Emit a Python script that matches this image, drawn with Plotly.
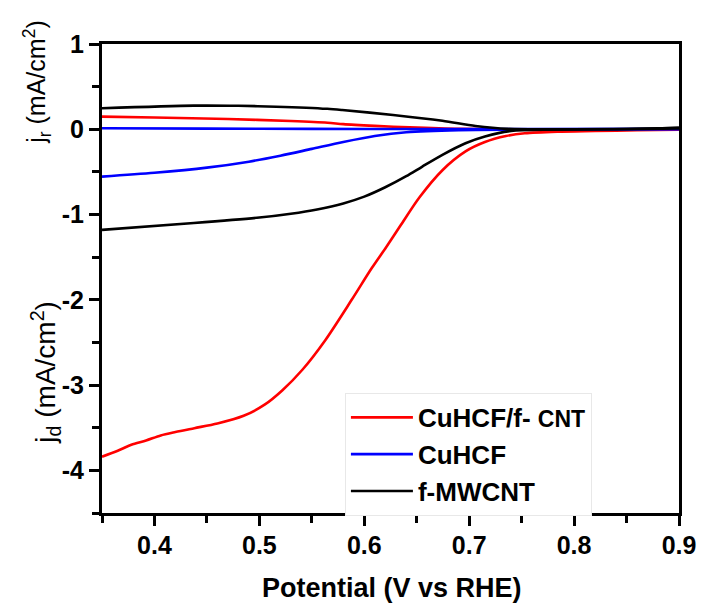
import plotly.graph_objects as go

# ---------------- data ----------------
# CuHCF/f-CNT (red) disk current
red_d_x = [0.35, 0.365, 0.378, 0.392, 0.406, 0.42, 0.438, 0.46, 0.485, 0.505, 0.522, 0.541,
           0.563, 0.588, 0.607, 0.621, 0.635, 0.6525, 0.6745, 0.6965, 0.715, 0.735, 0.753,
           0.784, 0.82, 0.86, 0.9]
red_d_y = [-3.84, -3.77, -3.70, -3.65, -3.59, -3.55, -3.505, -3.45, -3.36, -3.23, -3.06, -2.82,
           -2.47, -2.0, -1.63, -1.38, -1.12, -0.80, -0.48, -0.26, -0.15, -0.08, -0.047,
           -0.028, -0.02, -0.012, -0.005]
# CuHCF/f-CNT (red) ring current
red_r_x = [0.35, 0.40, 0.47, 0.53, 0.565, 0.58, 0.61, 0.643, 0.69, 0.75, 0.9]
red_r_y = [0.148, 0.138, 0.12, 0.097, 0.077, 0.06, 0.04, 0.023, 0.005, 0.0, 0.0]

# CuHCF (blue) disk current
blue_d_x = [0.35, 0.40, 0.45, 0.49, 0.52, 0.55, 0.58, 0.61, 0.64, 0.69, 0.75, 0.9]
blue_d_y = [-0.555, -0.51, -0.45, -0.38, -0.31, -0.23, -0.15, -0.08, -0.035, -0.01, -0.005, 0.0]
# CuHCF (blue) ring current
blue_r_x = [0.35, 0.45, 0.55, 0.65, 0.75, 0.9]
blue_r_y = [0.012, 0.008, 0.005, 0.003, 0.002, 0.005]

# f-MWCNT (black) disk current
blk_d_x = [0.35, 0.4376, 0.50, 0.53, 0.555, 0.58, 0.60, 0.62, 0.64, 0.655, 0.6745,
           0.6965, 0.715, 0.74, 0.78, 0.85, 0.9]
blk_d_y = [-1.18, -1.10, -1.035, -0.99, -0.94, -0.87, -0.79, -0.68, -0.55, -0.44, -0.30,
           -0.164, -0.085, -0.02, -0.005, 0.0, 0.01]
# f-MWCNT (black) ring current
blk_r_x = [0.35, 0.4376, 0.48, 0.516, 0.5647, 0.579, 0.6275, 0.6745, 0.706, 0.737, 0.8, 0.88, 0.9]
blk_r_y = [0.246, 0.277, 0.275, 0.265, 0.24, 0.226, 0.168, 0.10, 0.039, 0.005, 0.0, 0.01, 0.02]

series_names = ["CuHCF/f- <span style='font-size:23px'>CNT</span>", "CuHCF", "f-MWCNT"]
series_colors = ["#ff0000", "#0000ff", "#000000"]

x_ticks = [0.4, 0.5, 0.6, 0.7, 0.8, 0.9]
x_ticktext = ["0.4", "0.5", "0.6", "0.7", "0.8", "0.9"]
y_ticks = [1, 0, -1, -2, -3, -4]
y_ticktext = ["1", "0", "-1", "-2", "-3", "-4"]

FONT = "Arial, 'Liberation Sans', sans-serif"

fig = go.Figure()

pairs = [(red_d_x, red_d_y, red_r_x, red_r_y),
         (blue_d_x, blue_d_y, blue_r_x, blue_r_y),
         (blk_d_x, blk_d_y, blk_r_x, blk_r_y)]

for (dx, dy, rx, ry), name, col in zip(pairs, series_names, series_colors):
    fig.add_trace(go.Scatter(x=dx, y=dy, mode="lines", name=name,
                             line=dict(color=col, width=2.6, shape="spline", smoothing=0.8)))
    fig.add_trace(go.Scatter(x=rx, y=ry, mode="lines", name=name, showlegend=False,
                             line=dict(color=col, width=2.6, shape="spline", smoothing=0.8)))

axis_common = dict(showline=True, linecolor="black", linewidth=3, mirror=True,
                   ticks="outside", ticklen=10, tickwidth=3, tickcolor="black",
                   showgrid=False, zeroline=False,
                   tickfont=dict(family=FONT, size=25, color="black", weight="bold"))

fig.update_layout(
    width=708, height=605,
    margin=dict(l=102, r=22, t=44, b=92),
    plot_bgcolor="white", paper_bgcolor="white",
    font=dict(family=FONT, color="black"),
    xaxis=dict(range=[0.35, 0.9], tickvals=x_ticks, ticktext=x_ticktext,
               ticklabelstandoff=-2,
               minor=dict(ticks="outside", ticklen=7, tickwidth=3, tickcolor="black", dtick=0.05,
                          tick0=0.35),
               **axis_common),
    yaxis=dict(range=[-4.5, 1.0], tickvals=y_ticks, ticktext=y_ticktext,
               minor=dict(ticks="outside", ticklen=7, tickwidth=3, tickcolor="black", dtick=0.5,
                          tick0=0),
               **axis_common),
    legend=dict(x=0.421, y=0.256, xanchor="left", yanchor="top",
                bordercolor="#e8e8e8", borderwidth=1, bgcolor="white",
                font=dict(family=FONT, size=26, color="black", weight="bold"),
                tracegroupgap=0, itemwidth=62),
    showlegend=True,
)

fig.add_annotation(text="Potential (V vs RHE)", xref="paper", yref="paper",
                   x=(396 - 102) / 584, y=(513 - 588) / 469, xanchor="center", yanchor="middle",
                   showarrow=False,
                   font=dict(family=FONT, size=27, color="black", weight="bold"))
fig.add_annotation(text="j<sub>r</sub> (mA/cm<sup>2</sup>)", xref="paper", yref="paper",
                   x=(36 - 102) / 584, y=(513 - 82) / 469, xanchor="center", yanchor="middle",
                   textangle=-90, showarrow=False,
                   font=dict(family=FONT, size=25, color="black"))
fig.add_annotation(text="j<sub>d</sub> (mA/cm<sup>2</sup>)", xref="paper", yref="paper",
                   x=(45 - 102) / 584, y=(513 - 372) / 469, xanchor="center", yanchor="middle",
                   textangle=-90, showarrow=False,
                   font=dict(family=FONT, size=28, color="black"))

fig.write_html("out.html")
